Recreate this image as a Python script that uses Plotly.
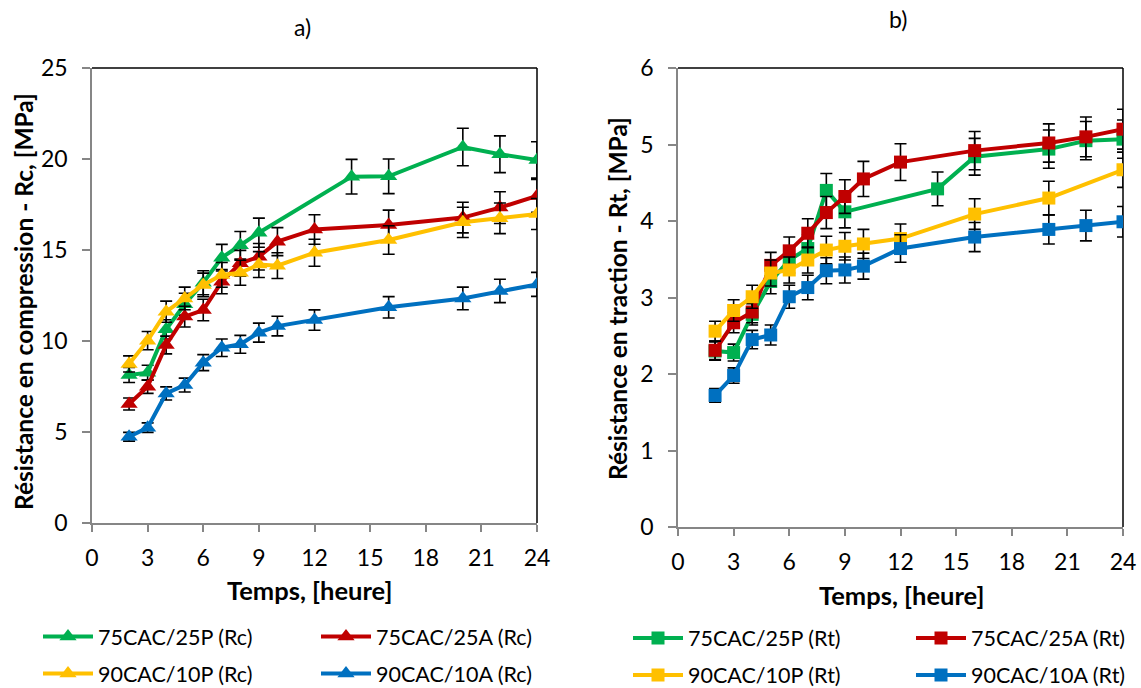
import plotly.graph_objects as go

W, H = 1141, 688

# ---------------- data: compression (Rc) ----------------
t_25P_rc = [2, 3, 4, 5, 6, 7, 8, 9, 14, 16, 20, 22, 24]
rc_25P = [8.13, 8.26, 10.64, 12.02, 13.2, 14.58, 15.26, 15.95, 19.03, 19.05, 20.66, 20.26, 19.95]
rc_25P_err = [0.41, 0.41, 0.53, 0.60, 0.66, 0.73, 0.76, 0.80, 0.95, 0.95, 1.03, 1.01, 1.00]

t_25A_rc = [2, 3, 4, 5, 6, 7, 8, 9, 10, 12, 16, 20, 22, 24]
rc_25A = [6.54, 7.49, 9.78, 11.34, 11.70, 13.26, 14.27, 14.63, 15.46, 16.13, 16.37, 16.78, 17.33, 17.97]
rc_25A_err = [0.33, 0.37, 0.49, 0.57, 0.59, 0.66, 0.71, 0.73, 0.77, 0.81, 0.82, 0.84, 0.87, 0.90]

t_10P_rc = [2, 3, 4, 5, 6, 7, 8, 9, 10, 12, 16, 20, 22, 24]
rc_10P = [8.74, 10.02, 11.61, 12.34, 13.08, 13.63, 13.75, 14.2, 14.14, 14.85, 15.55, 16.52, 16.74, 16.98]
rc_10P_err = [0.44, 0.50, 0.58, 0.62, 0.65, 0.68, 0.69, 0.71, 0.71, 0.74, 0.78, 0.83, 0.84, 0.85]

t_10A_rc = [2, 3, 4, 5, 6, 7, 8, 9, 10, 12, 16, 20, 22, 24]
rc_10A = [4.74, 5.24, 7.12, 7.58, 8.81, 9.63, 9.82, 10.46, 10.82, 11.15, 11.85, 12.34, 12.75, 13.11]
rc_10A_err = [0.24, 0.26, 0.36, 0.38, 0.44, 0.48, 0.49, 0.52, 0.54, 0.56, 0.59, 0.62, 0.64, 0.66]

# ---------------- data: traction (Rt) ----------------
t_25P_rt = [2, 3, 4, 5, 6, 7, 8, 9, 14, 16, 20, 22, 24]
rt_25P = [2.30, 2.28, 2.78, 3.21, 3.49, 3.64, 4.40, 4.12, 4.42, 4.84, 4.94, 5.05, 5.07]
rt_25P_err = [0.12, 0.11, 0.14, 0.16, 0.17, 0.18, 0.22, 0.21, 0.22, 0.24, 0.25, 0.25, 0.25]

t_25A_rt = [2, 3, 4, 5, 6, 7, 8, 9, 10, 12, 16, 20, 22, 24]
rt_25A = [2.31, 2.67, 2.81, 3.42, 3.61, 3.84, 4.11, 4.32, 4.55, 4.77, 4.92, 5.02, 5.10, 5.20]
rt_25A_err = [0.12, 0.13, 0.14, 0.17, 0.18, 0.19, 0.21, 0.22, 0.23, 0.24, 0.25, 0.25, 0.26, 0.26]

t_10P_rt = [2, 3, 4, 5, 6, 7, 8, 9, 10, 12, 16, 20, 24]
rt_10P = [2.56, 2.83, 3.01, 3.32, 3.36, 3.49, 3.62, 3.67, 3.70, 3.77, 4.09, 4.30, 4.67]
rt_10P_err = [0.13, 0.14, 0.15, 0.17, 0.17, 0.17, 0.18, 0.18, 0.19, 0.19, 0.20, 0.22, 0.23]

t_10A_rt = [2, 3, 4, 5, 6, 7, 8, 9, 10, 12, 16, 20, 22, 24]
rt_10A = [1.72, 1.98, 2.45, 2.51, 3.01, 3.13, 3.35, 3.36, 3.41, 3.64, 3.79, 3.89, 3.94, 3.99]
rt_10A_err = [0.09, 0.10, 0.12, 0.13, 0.15, 0.16, 0.17, 0.17, 0.17, 0.18, 0.19, 0.19, 0.20, 0.20]

names_rc = ["75CAC/25P (Rc)", "75CAC/25A (Rc)", "90CAC/10P (Rc)", "90CAC/10A (Rc)"]
names_rt = ["75CAC/25P (Rt)", "75CAC/25A (Rt)", "90CAC/10P (Rt)", "90CAC/10A (Rt)"]
colors = ["#00B050", "#C00000", "#FFC000", "#0070C0"]
x_ticks = [0, 3, 6, 9, 12, 15, 18, 21, 24]

FONT = "Lato"
AXIS_GRAY = "#868686"

fig = go.Figure()

rc_sets = [(t_25P_rc, rc_25P, rc_25P_err), (t_25A_rc, rc_25A, rc_25A_err),
           (t_10P_rc, rc_10P, rc_10P_err), (t_10A_rc, rc_10A, rc_10A_err)]
rt_sets = [(t_25P_rt, rt_25P, rt_25P_err), (t_25A_rt, rt_25A, rt_25A_err),
           (t_10P_rt, rt_10P, rt_10P_err), (t_10A_rt, rt_10A, rt_10A_err)]

# legend assignment: column 1 = green, yellow ; column 2 = red, blue
leg_rc = ["legend", "legend2", "legend", "legend2"]
leg_rt = ["legend3", "legend4", "legend3", "legend4"]

for i, (t, v, e) in enumerate(rc_sets):
    fig.add_trace(go.Scatter(
        x=t, y=v, name=names_rc[i], mode="lines+markers",
        line=dict(color=colors[i], width=4),
        marker=dict(symbol="triangle-up", size=15, color=colors[i]),
        error_y=dict(type="data", array=e, visible=True, color="black", thickness=1.6, width=6),
        xaxis="x", yaxis="y", legend=leg_rc[i], legendgroup=names_rc[i],
    ))
for i, (t, v, e) in enumerate(rt_sets):
    fig.add_trace(go.Scatter(
        x=t, y=v, name=names_rt[i], mode="lines+markers",
        line=dict(color=colors[i], width=4),
        marker=dict(symbol="square", size=13, color=colors[i]),
        error_y=dict(type="data", array=e, visible=True, color="black", thickness=1.6, width=6),
        xaxis="x2", yaxis="y2", legend=leg_rt[i], legendgroup=names_rt[i],
    ))

# plot area pixel positions
L1, R1, T1, B1 = 92, 537, 68, 523
L2, R2, T2, B2 = 678, 1123, 68, 527

def fx(px):
    return px / W

def fy(py):
    return 1 - py / H

tickfont = dict(family=FONT, size=23, color="#000000")

common_x = dict(range=[0, 24], tickvals=x_ticks, showgrid=False, zeroline=False,
                showline=True, linecolor=AXIS_GRAY, linewidth=1.5,
                ticks="outside", ticklen=7, tickcolor=AXIS_GRAY, tickwidth=1.5,
                tickfont=tickfont, ticklabelstandoff=7, automargin=False)
common_y = dict(showgrid=False, zeroline=False, showline=True, linecolor=AXIS_GRAY,
                linewidth=1.5, ticks="outside", ticklen=8, tickcolor=AXIS_GRAY,
                tickwidth=1.5, tickfont=tickfont, ticklabelstandoff=10, automargin=False)

legend_common = dict(orientation="v", font=dict(family=FONT, size=21.5, color="#000000"),
                     bgcolor="rgba(0,0,0,0)", tracegroupgap=6, itemwidth=50,
                     xanchor="left", yanchor="middle")

fig.update_layout(
    width=W, height=H,
    margin=dict(l=0, r=0, t=0, b=0, autoexpand=False),
    paper_bgcolor="white", plot_bgcolor="white",
    font=dict(family=FONT, color="#000000"),
    xaxis=dict(domain=[fx(L1), fx(R1)], anchor="y", **common_x),
    yaxis=dict(domain=[fy(B1), fy(T1)], anchor="x", range=[0, 25],
               tickvals=[0, 5, 10, 15, 20, 25], **common_y),
    xaxis2=dict(domain=[fx(L2), fx(R2)], anchor="y2", **common_x),
    yaxis2=dict(domain=[fy(B2), fy(T2)], anchor="x2", range=[0, 6],
                tickvals=[0, 1, 2, 3, 4, 5, 6], **common_y),
    legend=dict(x=fx(38), y=fy(655), **legend_common),
    legend2=dict(x=fx(316), y=fy(655), **legend_common),
    legend3=dict(x=fx(628), y=fy(656.5), **legend_common),
    legend4=dict(x=fx(911), y=fy(656.5), **legend_common),
    showlegend=True,
)

# black top and right borders of the plot areas
for (L, R, T, B) in [(L1, R1, T1, B1), (L2, R2, T2, B2)]:
    fig.add_shape(type="line", xref="paper", yref="paper",
                  x0=fx(L), x1=fx(R), y0=fy(T), y1=fy(T),
                  line=dict(color="black", width=1.5), layer="below")
    fig.add_shape(type="line", xref="paper", yref="paper",
                  x0=fx(R), x1=fx(R), y0=fy(T), y1=fy(B),
                  line=dict(color="black", width=1.5), layer="below")

# titles and axis titles
annos = [
    dict(text="a)", x=fx(302), y=fy(27), size=23, angle=0),
    dict(text="b)", x=fx(898), y=fy(19), size=23, angle=0),
    dict(text="<b>Temps, [heure]</b>", x=fx(309), y=fy(590), size=25.5, angle=0),
    dict(text="<b>Temps, [heure]</b>", x=fx(901), y=fy(595), size=25.5, angle=0),
    dict(text="<b>Résistance en compression - Rc, [MPa]</b>", x=fx(23), y=fy(302), size=24.5, angle=-90),
    dict(text="<b>Résistance en traction - Rt, [MPa]</b>", x=fx(617), y=fy(299), size=24.5, angle=-90),
]
for a in annos:
    fig.add_annotation(text=a["text"], x=a["x"], y=a["y"], xref="paper", yref="paper",
                       xanchor="center", yanchor="middle", showarrow=False,
                       textangle=a["angle"], font=dict(family=FONT, size=a["size"], color="#000000"))

fig.write_html("out.html", config={"displayModeBar": False},
               post_script="document.body.style.margin='0';document.body.style.padding='0';")
